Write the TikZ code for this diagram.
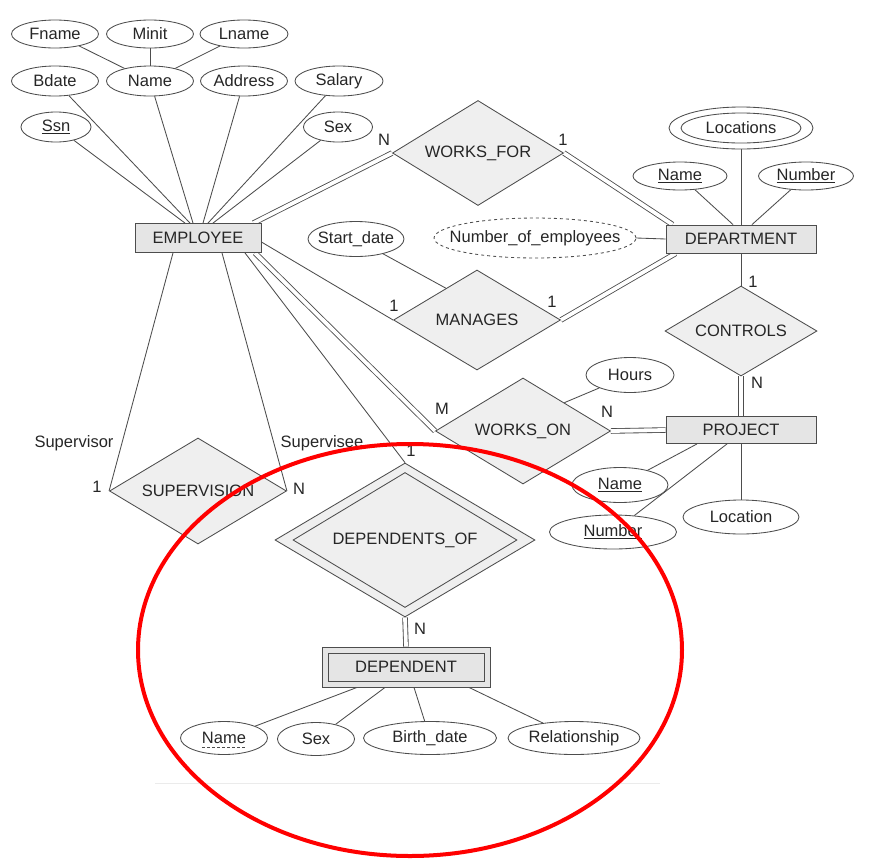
\documentclass[tikz,border=0pt]{standalone}
\usepackage{fontspec}
\setmainfont{Liberation Sans}
\usetikzlibrary{shapes.geometric,calc}
\pgfdeclarelayer{bg}
\pgfsetlayers{bg,main}
\definecolor{ln}{HTML}{4D4D4D}
\definecolor{txt}{HTML}{262626}
\definecolor{dfill}{HTML}{EFEFEF}
\definecolor{rfill}{HTML}{E5E5E5}
\newcommand{\mkzw}[1]{\makebox[0pt]{#1}}
\begin{document}
\begin{tikzpicture}[x=1pt,y=-1pt,
  font=\fontsize{16.5}{19}\selectfont, text=txt,
  every node/.style={inner sep=0pt},
  attr/.style={ellipse, draw=ln, line width=0.85pt, fill=white},
  ent/.style={rectangle, draw=ln, line width=0.85pt, fill=rfill},
  rel/.style={diamond, draw=ln, line width=0.85pt, fill=dfill, aspect=1.65},
  conn/.style={draw=ln, line width=0.85pt},
  dbl/.style={draw=ln, line width=0.85pt, double=white, double distance=3.8pt},
  card/.style={text=txt}]
\useasboundingbox (0,0) rectangle (871,868);

% EMPLOYEE and its attributes
\node[ent, minimum width=126pt, minimum height=29pt] (emp) at (198,238) {EMPLOYEE};
\node[attr, minimum width=87pt, minimum height=28pt] (fname) at (55,34) {\mkzw{Fname}};
\node[attr, minimum width=87pt, minimum height=28pt] (minit) at (150,34) {\mkzw{Minit}};
\node[attr, minimum width=88pt, minimum height=28pt] (lname) at (244,34) {\mkzw{Lname}};
\node[attr, minimum width=87pt, minimum height=30pt] (bdate) at (55,81) {\mkzw{Bdate}};
\node[attr, minimum width=87pt, minimum height=30pt] (ename) at (150,81) {\mkzw{Name}};
\node[attr, minimum width=87pt, minimum height=30pt] (addr) at (244,81) {\mkzw{Address}};
\node[attr, minimum width=88pt, minimum height=30pt] (salary) at (339,81) {\mkzw{Salary}};
\node[attr, minimum width=70pt, minimum height=30pt] (ssn) at (56,127) {\mkzw{\underline{Ssn}}};
\node[attr, minimum width=69pt, minimum height=30pt] (esex) at (338,127) {\mkzw{Sex}};

% DEPARTMENT and its attributes
\node[ent, minimum width=150pt, minimum height=28pt] (dept) at (741,239) {DEPARTMENT};
\node[attr, minimum width=144pt, minimum height=42pt] (loc) at (741,128) {};
\node[attr, minimum width=120pt, minimum height=30pt] (loci) at (741,128) {\mkzw{Locations}};
\node[attr, minimum width=94pt, minimum height=28pt] (dname) at (680,176) {\mkzw{\underline{Name}}};
\node[attr, minimum width=95pt, minimum height=28pt] (dnum) at (806,176) {\mkzw{\underline{Number}}};
\node[attr, dashed, minimum width=202pt, minimum height=40pt] (noe) at (535,238) {\mkzw{Number\_of\_employees}};

% relationships
\node[rel, minimum width=171pt, minimum height=105pt] (wf) at (478,153) {WORKS\_FOR};
\node[rel, minimum width=167pt, minimum height=100pt] (man) at (477,320) {MANAGES};
\node[attr, minimum width=96pt, minimum height=35pt] (sdate) at (356,239) {\mkzw{Start\_date}};
\node[rel, minimum width=175pt, minimum height=106pt] (wo) at (523,431) {WORKS\_ON};
\node[attr, minimum width=88pt, minimum height=35pt] (hours) at (630,375) {\mkzw{Hours}};
\node[rel, minimum width=152pt, minimum height=90pt] (ctrl) at (741,331) {CONTROLS};
\node[rel, minimum width=177pt, minimum height=106pt] (sup) at (198,491) {SUPERVISION};

% PROJECT and its attributes
\node[ent, minimum width=150pt, minimum height=27pt] (proj) at (741,430) {PROJECT};
\node[attr, minimum width=96pt, minimum height=35pt] (pname) at (620,485) {\mkzw{\underline{Name}}};
\node[attr, minimum width=127pt, minimum height=34pt] (pnum) at (613,532) {\mkzw{\underline{Number}}};
\node[attr, minimum width=116pt, minimum height=34pt] (ploc) at (741,517) {\mkzw{Location}};

% DEPENDENTS_OF and DEPENDENT
\node[rel, minimum width=260pt, minimum height=154pt] (dof) at (405,540) {};
\node[rel, minimum width=224pt, minimum height=135pt] (dofi) at (405,540) {DEPENDENTS\_OF};
\node[ent, minimum width=168pt, minimum height=40pt] (dep) at (406,667) {};
\node[ent, minimum width=156pt, minimum height=28pt] (depi) at (406,667) {DEPENDENT};
\node[attr, minimum width=87pt, minimum height=33pt] (dpname) at (224,738) {\mkzw{Name}};
\node[attr, minimum width=77pt, minimum height=33pt] (dpsex) at (316,739) {\mkzw{Sex}};
\node[attr, minimum width=133pt, minimum height=33pt] (dpbd) at (430,738) {\mkzw{Birth\_date}};
\node[attr, minimum width=132pt, minimum height=33pt] (dprel) at (574,738) {\mkzw{Relationship}};
\draw[ln, line width=0.7pt, dash pattern=on 3pt off 2pt] ($(dpname.center)+(-22,9)$) coordinate (du1) -- ($(dpname.center)+(22,9)$) coordinate (du2);

% cardinalities and role names
\node[card] (c1) at (384,140) {N};
\node[card] (c2) at (563,140) {1};
\node[card] (c3) at (394,306) {1};
\node[card] (c4) at (552,302) {1};
\node[card] (c5) at (442,409) {M};
\node[card] (c6) at (607,412) {N};
\node[card] (c7) at (753,282) {1};
\node[card] (c8) at (757,383) {N};
\node[card] (c9) at (97,487) {1};
\node[card] (c10) at (299,489) {N};
\node[card] (c11) at (411,451) {1};
\node[card] (c12) at (420,629) {N};
\node[card] (r1) at (74,443) {Supervisor};
\node[card] (r2) at (322,443) {Supervisee};

\begin{pgfonlayer}{bg}
\fill[white] (0,0) rectangle (871,868);
\draw[conn] (fname) -- (ename);
\draw[conn] (minit) -- (ename);
\draw[conn] (lname) -- (ename);
\draw[conn] (ssn) -- ($(emp.north)+(-13,0)$);
\draw[conn] (bdate) -- ($(emp.north)+(-8,0)$);
\draw[conn] (ename) -- ($(emp.north)+(-5,0)$);
\draw[conn] (addr) -- ($(emp.north)+(5,0)$);
\draw[conn] (salary) -- ($(emp.north)+(10,0)$);
\draw[conn] (esex) -- ($(emp.north)+(15,0)$);
\draw[dbl] ($(emp.north east)+(-8,0)$) -- (wf.west);
\draw[dbl] (wf.east) -- ($(dept.north west)+(7,0)$);
\draw[conn] ($(emp.east)+(0,4)$) -- (man.west);
\draw[dbl] (man.east) -- ($(dept.south west)+(10,0)$);
\draw[conn] (sdate) -- ($(man.north)!0.37!(man.west)$);
\draw[conn] (noe.east) -- (dept.west);
\draw[conn] (loc.south) -- (dept.north);
\draw[conn] (dname) -- ($(dept.north)+(-8,0)$);
\draw[conn] (dnum) -- ($(dept.north)+(11,0)$);
\draw[conn] (dept.south) -- (ctrl.north);
\draw[dbl] (ctrl.south) -- (proj.north);
\draw[dbl] ($(emp.south)+(57,0)$) -- (wo.west);
\draw[dbl] (wo.east) -- (proj.west);
\draw[conn] (hours) -- ($(wo.north)!0.47!(wo.east)$);
\draw[conn] (pname) -- ($(proj.south)+(-44,0)$);
\draw[conn] (pnum) -- ($(proj.south)+(-14,0)$);
\draw[conn] (proj.south) -- (ploc.north);
\draw[conn] ($(emp.south)+(-25,0)$) -- (sup.west);
\draw[conn] ($(emp.south)+(24,0)$) -- (sup.east);
\draw[conn] ($(emp.south)+(47,0)$) -- (dof.north);
\draw[dbl] (dof.south) -- (dep.north);
\draw[conn] ($(dep.south)+(-49,0)$) -- (dpname);
\draw[conn] ($(dep.south)+(-21,0)$) -- (dpsex);
\draw[conn] ($(dep.south)+(8,0)$) -- (dpbd);
\draw[conn] ($(dep.south)+(63,0)$) -- (dprel);
\draw[black!8, line width=0.8pt] (155,783) -- (660,783);
\end{pgfonlayer}

% red highlight
\draw[red, line width=4pt] (410,650) ellipse [x radius=272pt, y radius=206pt];
\end{tikzpicture}
\end{document}
